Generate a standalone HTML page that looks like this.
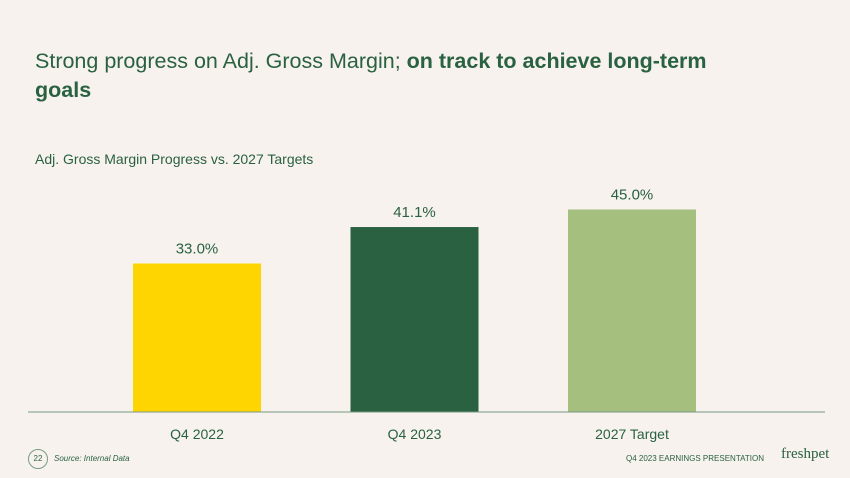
<!DOCTYPE html>
<html><head><meta charset="utf-8"><style>
body{margin:0;width:850px;height:478px;background:#f7f2ee;font-family:"Liberation Sans",sans-serif;overflow:hidden;position:relative}
.t{position:absolute;left:35px;top:47px;font-size:21.5px;color:#2a6141;line-height:29px;width:700px}
.sub{position:absolute;left:35px;top:151px;font-size:14px;color:#2a6141}
.foot{position:absolute;font-size:8px;color:#2a6141}
</style></head><body>
<div class="t">Strong progress on Adj. Gross Margin; <b>on track to achieve long-term<br>goals</b></div>
<div class="sub">Adj. Gross Margin Progress vs. 2027 Targets</div>
<svg id="c" width="850" height="478" style="position:absolute;left:0;top:0"></svg>
<div style="position:absolute;left:28px;top:449px;width:18px;height:18px;border:1px solid #7a9a85;border-radius:50%;font-size:8px;color:#2a6141;text-align:center;line-height:18px">22</div>
<div class="foot" style="left:54px;top:454px;font-style:italic">Source: Internal Data</div>
<div class="foot" style="left:626px;top:454px">Q4 2023 EARNINGS PRESENTATION</div>
<div style="position:absolute;left:781px;top:446px;font-family:'Liberation Serif',serif;font-size:15px;color:#2a6141">freshpet</div>
<script>
const categories=["Q4 2022","Q4 2023","2027 Target"];
const values=[33.0,41.1,45.0];
const labels=["33.0%","41.1%","45.0%"];
const colors=["#fed500","#2a6141","#a5bf7e"];
const svg=document.getElementById('c');const ns="http://www.w3.org/2000/svg";
const y0=412,k=4.5;
const y=v=>y0-v*k;
const x=i=>133+i*217.5;
function mk(t,a){const e=document.createElementNS(ns,t);for(const q in a)e.setAttribute(q,a[q]);svg.appendChild(e);return e;}
values.forEach((v,i)=>{
const r=mk('rect',{x:x(i),y:y(v),width:128,height:y0-y(v),fill:colors[i]});


const l=mk('text',{x:x(i)+64,y:y(v)-10,'text-anchor':'middle','font-size':15,fill:'#2a6141'});l.textContent=labels[i];


const c=mk('text',{x:x(i)+64,y:439,'text-anchor':'middle','font-size':14,fill:'#2a6141'});c.textContent=categories[i];


});
const ax=mk('line',{x1:28,x2:825,y1:y0,y2:y0,stroke:'#7a9a85','stroke-width':1});


</script>
</body></html>
